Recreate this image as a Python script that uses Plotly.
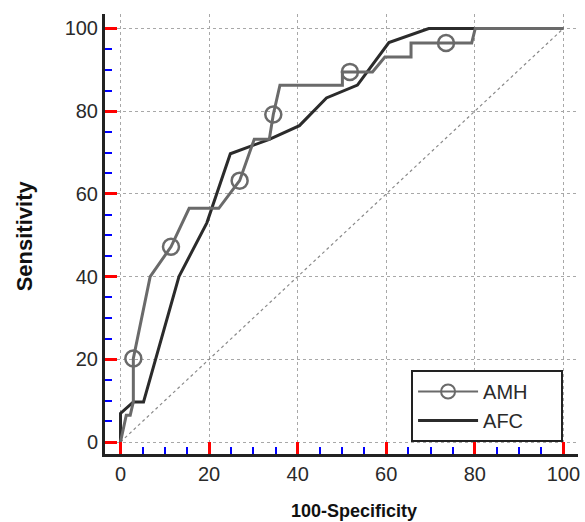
import plotly.graph_objects as go

# ROC data
amh_x = [0, 1.3, 2.2, 2.9, 2.9, 6.7, 11.4, 15.5, 22.2, 26.9, 30.2, 33.6, 34.5, 36.0, 50.1, 50.1, 56.9, 59.7, 65.6, 65.6, 79.3, 80.1, 100]
amh_y = [0, 6.5, 6.5, 9.7, 20.2, 40.0, 47.2, 56.5, 56.5, 63.2, 73.2, 73.2, 79.2, 86.3, 86.3, 89.5, 89.5, 93.1, 93.1, 96.5, 96.5, 100, 100]
amh_mark_x = [2.9, 11.4, 26.9, 34.5, 51.8, 73.5]
amh_mark_y = [20.2, 47.2, 63.2, 79.2, 89.5, 96.5]

afc_x = [0, 0, 2.9, 5.2, 13.2, 19.5, 24.8, 33.6, 40.4, 46.5, 53.5, 60.6, 69.6, 100]
afc_y = [0, 6.9, 9.7, 9.7, 40.0, 53.0, 69.7, 73.2, 76.5, 83.2, 86.3, 96.6, 100, 100]

ref_x = [0, 100]
ref_y = [0, 100]

tick_vals = [0, 20, 40, 60, 80, 100]
series_names = ["AMH", "AFC"]
x_title = "100-Specificity"
y_title = "Sensitivity"

AMH_COL = "#6a6a6a"
AFC_COL = "#2b2b2b"
AX_COL = "#222222"
FONT = "Liberation Sans, Arial, sans-serif"
pad = "\u00a0" * 5

W, H = 585, 522
ML, MR, MT, MB = 105, 5, 14, 68
PW, PH = W - ML - MR, H - MT - MB

fig = go.Figure()
fig.add_trace(go.Scatter(x=ref_x, y=ref_y, mode="lines", showlegend=False,
                         line=dict(color="#8a8a8a", width=1.2, dash="dot"), hoverinfo="skip"))
fig.add_trace(go.Scatter(x=afc_x, y=afc_y, mode="lines", name=series_names[1] + pad,
                         line=dict(color=AFC_COL, width=3), legendrank=2))
fig.add_trace(go.Scatter(x=amh_x, y=amh_y, mode="lines", showlegend=False,
                         line=dict(color=AMH_COL, width=3)))
fig.add_trace(go.Scatter(x=amh_mark_x, y=amh_mark_y, mode="markers", showlegend=False,
                         marker=dict(symbol="circle-open", size=16, color=AMH_COL,
                                     line=dict(width=2.5, color=AMH_COL))))
fig.add_trace(go.Scatter(x=[None], y=[None], mode="lines+markers", name=series_names[0] + pad,
                         line=dict(color=AMH_COL, width=2),
                         marker=dict(symbol="circle-open", size=14, color=AMH_COL,
                                     line=dict(width=2, color=AMH_COL)), legendrank=1))

axis_common = dict(
    tickmode="array", tickvals=tick_vals, ticks="inside", ticklen=12, tickwidth=3,
    tickcolor="red", showline=True, linewidth=3, linecolor=AX_COL,
    showgrid=True, gridcolor="#a8a8a8", gridwidth=1, griddash="dot",
    zeroline=False, tickfont=dict(size=20, color="#2a2a2a", family=FONT),
    minor=dict(tickmode="linear", tick0=0, dtick=5, ticks="inside", ticklen=7, tickwidth=2,
               tickcolor="blue", showgrid=False),
)

fig.update_layout(
    width=W, height=H,
    margin=dict(l=ML, r=MR, t=MT, b=MB),
    plot_bgcolor="white", paper_bgcolor="white",
    font=dict(family=FONT, color="#222"),
    xaxis=dict(range=[-3.5, 103.3], **axis_common),
    yaxis=dict(range=[-2.9, 103.5], **axis_common),
    showlegend=True,
    legend=dict(x=(565 - ML) / PW, y=(454 - 442) / PH, xanchor="right", yanchor="bottom",
                bgcolor="white", bordercolor=AX_COL, borderwidth=2,
                font=dict(size=20, color="#2a2a2a", family=FONT),
                tracegroupgap=0, itemwidth=60),
    annotations=[
        dict(text="<b>" + x_title + "</b>", xref="paper", yref="paper",
             x=(355 - ML) / PW, y=-(511 - 454) / PH, xanchor="center", yanchor="middle",
             showarrow=False, font=dict(size=18, color="#111", family=FONT)),
        dict(text="<b>" + y_title + "</b>", xref="paper", yref="paper", textangle=-90,
             x=-(ML - 24) / PW, y=(454 - 236) / PH, xanchor="center", yanchor="middle",
             showarrow=False, font=dict(size=22, color="#111", family=FONT)),
    ],
)

fig.write_html("out.html")
